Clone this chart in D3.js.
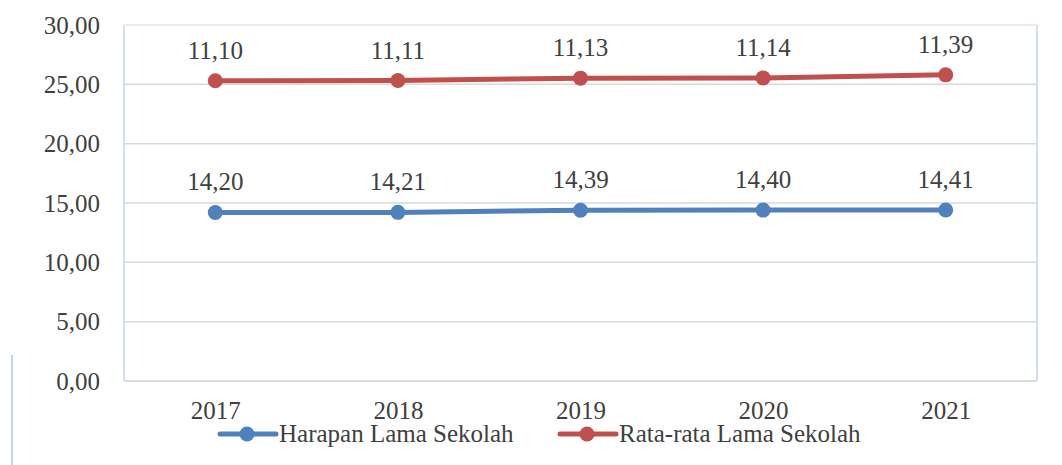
<!DOCTYPE html>
<html>
<head>
<meta charset="utf-8">
<script src="https://cdn.jsdelivr.net/npm/d3@7"></script>
<style>
  body { margin: 0; background: #fff; }
  text { font-family: "Liberation Serif", "DejaVu Serif", serif; fill: #404040; }
</style>
</head>
<body>
<div id="chart"></div>
<script>
// data
const years = ["2017", "2018", "2019", "2020", "2021"];
const harapanLama = [14.20, 14.21, 14.39, 14.40, 14.41];
const rataRataLama = [11.10, 11.11, 11.13, 11.14, 11.39];
const yTicks = [0, 5, 10, 15, 20, 25, 30];
const seriesNames = ["Harapan Lama Sekolah", "Rata-rata Lama Sekolah"];
const colors = ["#4F81BD", "#C0504D"];

const width = 1062;
const height = 465;
const margin = { top: 25, right: 25, bottom: 84, left: 124 };
const innerW = width - margin.left - margin.right;
const innerH = height - margin.top - margin.bottom;
const fontSize = "25px";

const fmt = (v) => v.toFixed(2).replace(".", ",");

const svg = d3
  .select("#chart")
  .append("svg")
  .attr("width", width)
  .attr("height", height);

// faint stray line at left edge
svg
  .append("line")
  .attr("x1", 12)
  .attr("x2", 12)
  .attr("y1", 355)
  .attr("y2", height)
  .attr("stroke", "#c6d4e8")
  .attr("stroke-width", 2);

const g = svg
  .append("g")
  .attr("transform", `translate(${margin.left},${margin.top})`);

const x = d3.scalePoint().domain(years).range([0, innerW]).padding(0.5);
const y = d3.scaleLinear().domain([0, 30]).range([innerH, 0]);

// stacked series (line chart is stacked)
const rows = years.map((yr, i) => ({ year: yr, a: harapanLama[i], b: rataRataLama[i] }));
const stack = d3.stack().keys(["a", "b"])(rows);

// gridlines
g.append("g")
  .selectAll("line")
  .data(yTicks.filter((t) => t > 0))
  .enter()
  .append("line")
  .attr("x1", 0)
  .attr("x2", innerW)
  .attr("y1", (d) => y(d))
  .attr("y2", (d) => y(d))
  .attr("stroke", "#d9d9d9")
  .attr("stroke-width", 1.5);

// plot border
g.append("line").attr("x1", 0).attr("x2", 0).attr("y1", 0).attr("y2", innerH)
  .attr("stroke", "#c5d5ea").attr("stroke-width", 1.5);
g.append("line").attr("x1", innerW).attr("x2", innerW).attr("y1", 0).attr("y2", innerH)
  .attr("stroke", "#c5d5ea").attr("stroke-width", 1.5);
g.append("line").attr("x1", 0).attr("x2", innerW).attr("y1", 0).attr("y2", 0)
  .attr("stroke", "#eaf0f7").attr("stroke-width", 1.5);
g.append("line").attr("x1", 0).attr("x2", innerW).attr("y1", innerH).attr("y2", innerH)
  .attr("stroke", "#d9dde3").attr("stroke-width", 2);

// y axis
const yAxis = g
  .append("g")
  .call(d3.axisLeft(y).tickValues(yTicks).tickFormat(fmt).tickSize(0).tickPadding(24));
yAxis.select(".domain").remove();
yAxis.selectAll("text").style("font-size", fontSize).attr("dy", "0.33em");

// x axis
const xAxis = g
  .append("g")
  .attr("transform", `translate(0,${innerH})`)
  .call(d3.axisBottom(x).tickSize(0).tickPadding(20));
xAxis.select(".domain").remove();
xAxis.selectAll("text").style("font-size", fontSize);

const line = d3
  .line()
  .x((d) => x(d.data.year))
  .y((d) => y(d[1]));

stack.forEach((s, i) => {
  g.append("path")
    .datum(s)
    .attr("fill", "none")
    .attr("stroke", colors[i])
    .attr("stroke-width", 5)
    .attr("stroke-linecap", "round")
    .attr("d", line);

  g.selectAll(null)
    .data(s)
    .enter()
    .append("circle")
    .attr("cx", (d) => x(d.data.year))
    .attr("cy", (d) => y(d[1]))
    .attr("r", 7.5)
    .attr("fill", colors[i]);

  g.selectAll(null)
    .data(s)
    .enter()
    .append("text")
    .attr("x", (d) => x(d.data.year))
    .attr("y", (d) => y(d[1]) - 22)
    .attr("text-anchor", "middle")
    .style("font-size", fontSize)
    .text((d) => fmt(d[1] - d[0]));
});

// legend
const legendX = [220, 560];
const legend = svg
  .append("g")
  .selectAll("g")
  .data(seriesNames)
  .enter()
  .append("g")
  .attr("transform", (d, i) => `translate(${legendX[i]},434)`);

legend
  .append("line")
  .attr("x1", 0)
  .attr("x2", 56)
  .attr("stroke", (d, i) => colors[i])
  .attr("stroke-width", 5)
  .attr("stroke-linecap", "round");
legend
  .append("circle")
  .attr("cx", 27)
  .attr("r", 7.5)
  .attr("fill", (d, i) => colors[i]);
legend
  .append("text")
  .attr("x", 59)
  .attr("y", 0)
  .attr("dy", "0.33em")
  .style("font-size", fontSize)
  .text((d) => d);
</script>
</body>
</html>
